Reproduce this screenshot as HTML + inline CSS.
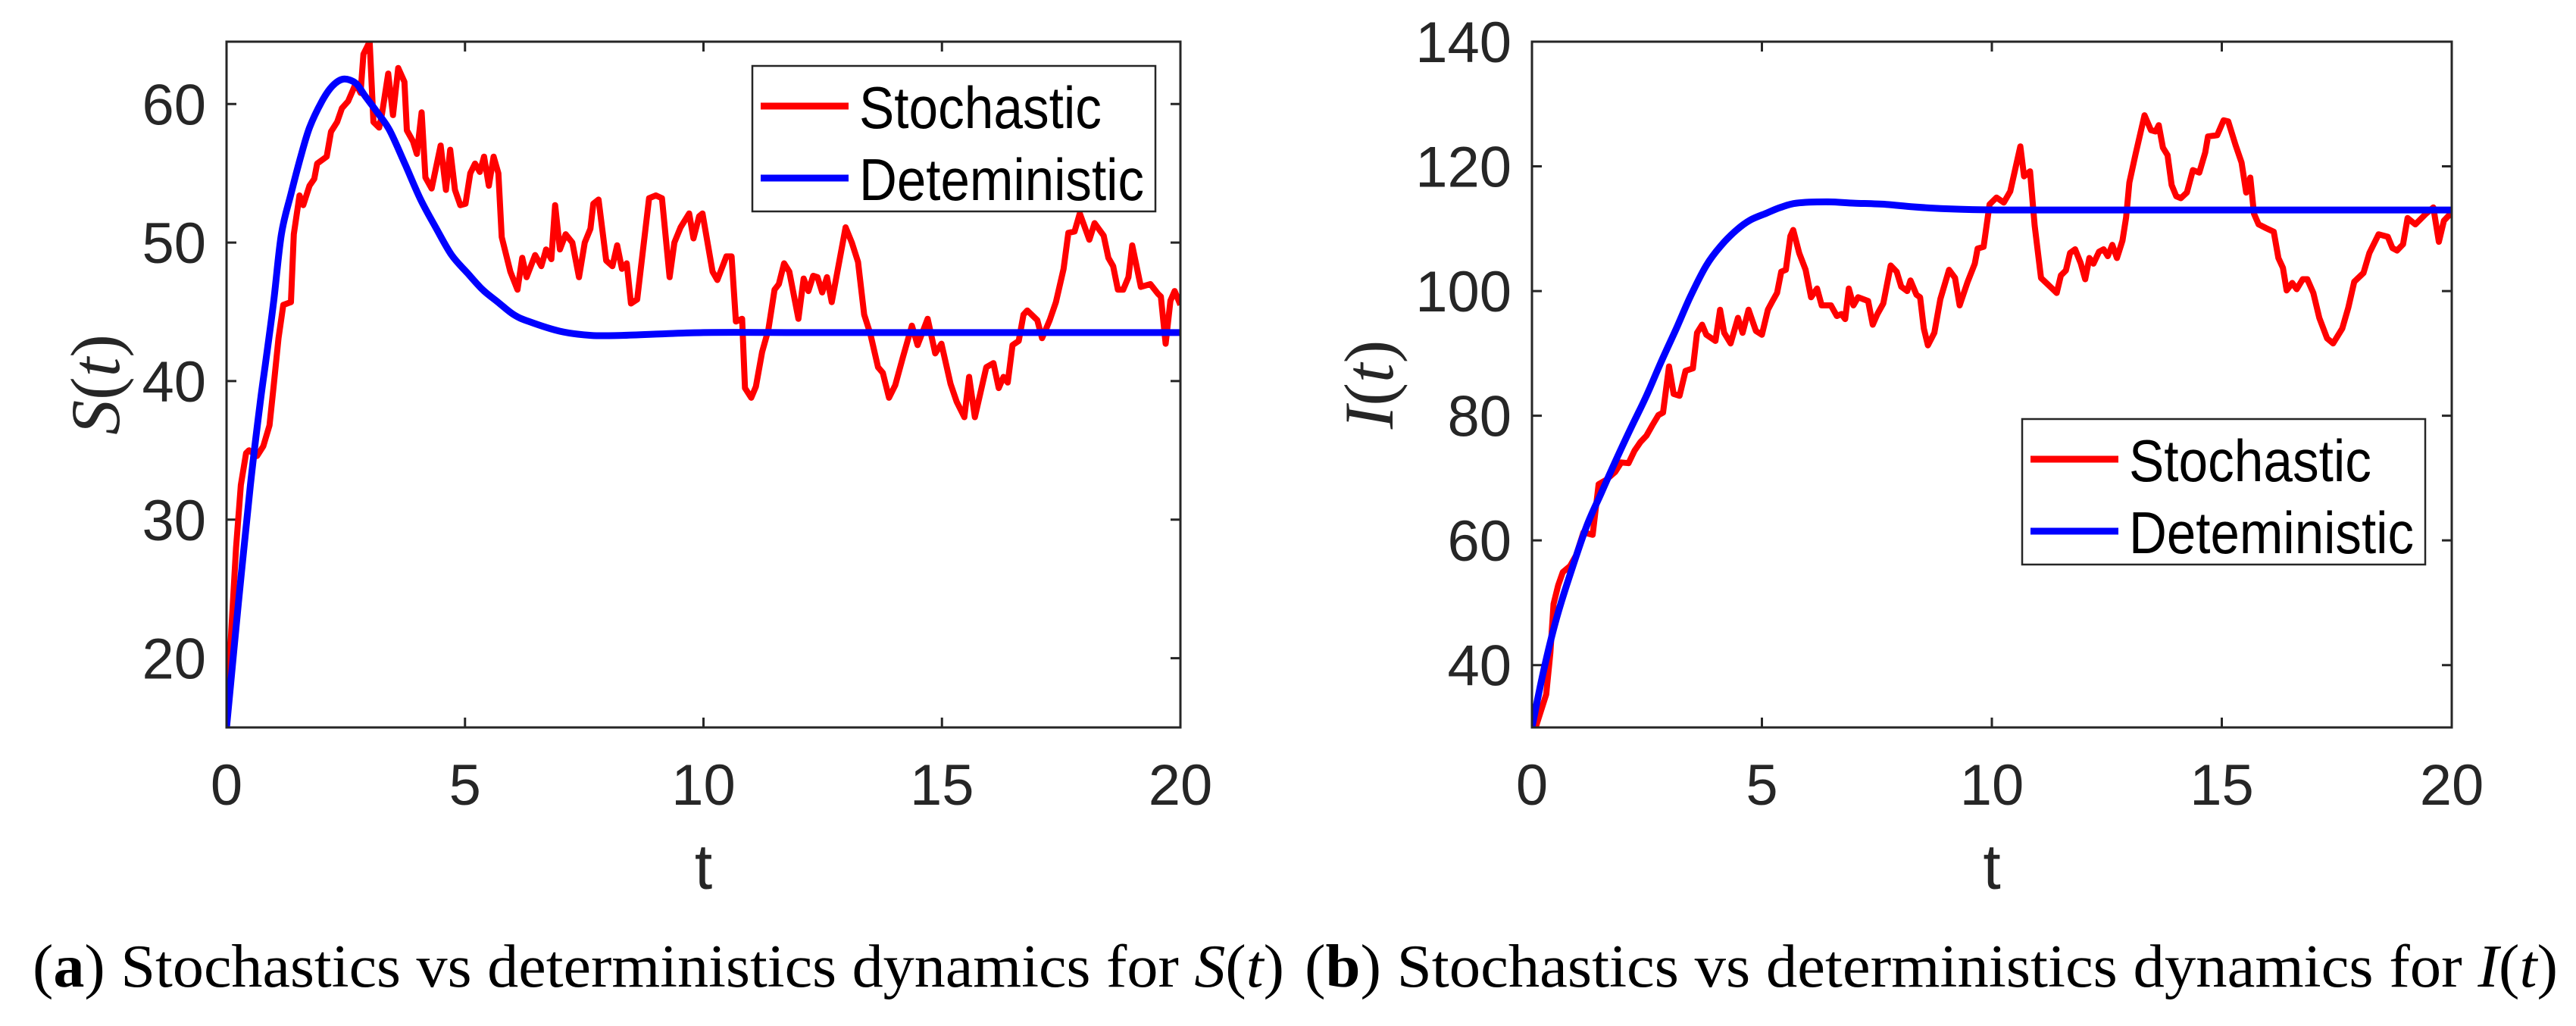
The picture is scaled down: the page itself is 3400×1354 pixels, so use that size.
<!DOCTYPE html>
<html><head><meta charset="utf-8"><style>
html,body{margin:0;padding:0;background:#fff;}
svg{display:block;}
</style></head><body>
<svg id="fig" width="3400" height="1354" viewBox="0 0 3400 1354" xmlns="http://www.w3.org/2000/svg">
<rect x="0" y="0" width="3400" height="1354" fill="#fff"/>
</svg>
<script>
// ---------- data ----------
const sTimes = [0,0.1,0.2,0.3,0.41,0.47,0.64,0.77,0.9,0.99,1.09,1.19,1.35,1.41,1.53,1.61,1.74,1.84,1.9,2.1,2.19,2.32,2.42,2.55,2.65,2.71,2.81,2.87,3.0,3.08,3.2,3.26,3.39,3.49,3.6,3.73,3.78,3.91,3.99,4.09,4.17,4.3,4.49,4.6,4.69,4.79,4.9,5.01,5.11,5.21,5.31,5.4,5.5,5.6,5.7,5.77,5.95,6.1,6.2,6.29,6.47,6.6,6.7,6.81,6.89,6.99,7.11,7.25,7.39,7.51,7.63,7.69,7.8,7.96,8.09,8.19,8.29,8.39,8.48,8.61,8.86,9.0,9.13,9.29,9.39,9.52,9.7,9.79,9.91,9.98,10.19,10.29,10.48,10.59,10.68,10.81,10.87,11.0,11.1,11.23,11.36,11.49,11.58,11.69,11.8,11.99,12.1,12.2,12.3,12.39,12.49,12.59,12.69,12.98,13.11,13.24,13.37,13.5,13.66,13.76,13.89,14.02,14.18,14.37,14.49,14.7,14.86,14.99,15.18,15.31,15.47,15.57,15.69,15.93,16.08,16.19,16.29,16.38,16.48,16.61,16.71,16.79,17.0,17.1,17.26,17.39,17.55,17.65,17.78,17.89,18.09,18.2,18.39,18.49,18.59,18.69,18.8,18.91,18.99,19.17,19.37,19.53,19.59,19.69,19.79,19.88,20.0];
const sStoch = [15,22,28,32.5,34.8,35.0,34.6,35.3,36.8,39.7,43.1,45.5,45.7,50.6,53.4,52.7,54.1,54.6,55.7,56.2,58.0,58.7,59.7,60.2,61.0,61.5,60.8,63.6,64.5,58.7,58.3,59.3,62.2,59.2,62.6,61.6,58.1,57.3,56.4,59.4,54.7,53.9,57.0,53.8,56.7,53.8,52.7,52.8,55.0,55.7,55.1,56.2,54.1,56.2,55.0,50.4,47.9,46.6,48.9,47.5,49.1,48.3,49.5,48.8,52.7,49.5,50.6,50.0,47.5,50.0,51.0,52.8,53.1,48.7,48.3,49.8,48.1,48.5,45.6,45.9,53.2,53.4,53.2,47.5,50.0,51.1,52.1,50.3,51.9,52.1,47.9,47.3,49.0,49.0,44.3,44.5,39.5,38.8,39.6,42.1,43.7,46.6,47.0,48.5,47.9,44.5,47.4,46.5,47.6,47.5,46.4,47.5,45.7,51.1,50.0,48.6,44.8,43.4,41.0,40.6,38.8,39.7,41.7,44.0,42.6,44.5,42.0,42.7,39.8,38.5,37.4,40.3,37.4,41.0,41.3,39.5,40.3,39.9,42.6,42.9,44.8,45.1,44.4,43.1,44.4,45.7,48.1,50.7,50.8,52.1,50.2,51.4,50.5,48.9,48.3,46.6,46.6,47.5,49.8,46.8,47.0,46.3,46.1,42.7,45.8,46.5,45.5];
const sDetTimes = [0,0.25,0.5,0.7,0.83,0.99,1.15,1.35,1.54,1.74,2.0,2.22,2.45,2.71,2.9,3.16,3.42,3.75,4.07,4.4,4.72,5.05,5.37,5.69,6.02,6.34,6.99,7.64,8.29,10,12,15,20];
const sDet = [15,24,32.5,38.3,41.6,45.8,50.6,53.5,56.0,58.3,60.2,61.3,61.8,61.5,60.6,59.4,58.1,55.6,53.1,51.0,49.1,47.8,46.6,45.7,44.8,44.3,43.6,43.3,43.3,43.5,43.5,43.5,43.5];

const iTimes = [0,0.08,0.31,0.4,0.47,0.57,0.67,0.83,0.96,1.12,1.32,1.45,1.61,1.81,1.94,2.1,2.23,2.36,2.49,2.62,2.75,2.85,2.98,3.08,3.21,3.34,3.5,3.59,3.7,3.79,3.99,4.09,4.18,4.32,4.48,4.58,4.71,4.87,5.0,5.13,5.23,5.33,5.42,5.52,5.62,5.68,5.81,5.95,6.07,6.2,6.3,6.5,6.63,6.73,6.81,6.89,6.99,7.09,7.31,7.41,7.51,7.64,7.8,7.93,8.03,8.16,8.23,8.36,8.44,8.52,8.61,8.75,8.88,9.07,9.2,9.3,9.47,9.63,9.69,9.82,9.95,10.1,10.26,10.4,10.62,10.7,10.83,10.93,11.07,11.24,11.41,11.5,11.61,11.7,11.81,11.93,12.03,12.12,12.21,12.33,12.43,12.52,12.62,12.72,12.84,12.92,12.99,13.12,13.32,13.46,13.56,13.63,13.72,13.82,13.91,14.01,14.11,14.24,14.37,14.51,14.64,14.7,14.9,15.04,15.14,15.3,15.43,15.53,15.62,15.7,15.8,15.96,16.13,16.23,16.33,16.41,16.53,16.63,16.76,16.86,16.99,17.12,17.29,17.42,17.62,17.75,17.88,18.08,18.21,18.41,18.61,18.71,18.81,18.94,19.04,19.21,19.44,19.6,19.72,19.83,20.0];
const iStoch = [30,30,35.3,42,49.8,52.8,54.9,55.9,57.6,61.3,60.9,69.0,69.7,71.0,72.5,72.4,74.4,75.8,76.8,78.5,80.1,80.5,87.9,83.5,83.2,87.2,87.6,93.3,94.6,93.0,92.0,97.0,93.3,91.6,95.7,93.3,97.0,93.6,93.0,97.0,98.4,99.7,103.1,103.4,108.8,109.8,106.1,103.4,99.0,100.4,97.7,97.7,96.0,96.3,95.5,100.4,97.7,99.0,98.4,94.6,96.3,98.0,104.1,103.1,100.7,100.0,101.7,99.4,99.0,94.0,91.3,93.3,98.7,103.4,102.1,97.7,101.4,104.4,106.8,107.1,113.9,115.0,114.2,116.0,123.2,118.4,119.2,110.5,102.1,100.9,99.7,102.5,103.3,106.1,106.7,104.5,101.9,105.3,104.4,106.3,106.7,105.6,107.4,105.3,108.1,111.8,117.4,121.8,128.2,125.8,125.6,126.6,123.0,121.8,117.0,115.2,114.9,115.8,119.4,119.0,122.2,124.8,125.0,127.4,127.2,123.4,120.6,115.8,118.2,112.4,110.7,110.1,109.5,105.3,103.7,100.1,101.3,100.3,101.9,101.9,99.7,95.7,92.4,91.6,94.0,97.3,101.5,102.9,106.1,109.1,108.7,106.9,106.5,107.5,111.7,110.7,112.4,113.4,107.9,111.3,112.6];
const iDetTimes = [0,0.25,0.53,0.85,1.19,1.5,1.84,2.15,2.49,2.8,3.14,3.45,3.79,4.1,4.45,4.75,5.1,5.4,5.75,6.4,7.0,7.7,8.3,9.0,10.1,12,15,20];
const iDet = [30,39,47.4,55,62.3,67.5,73.1,78,83.2,88.5,94.0,99.2,104.1,107.2,109.8,111.4,112.5,113.4,114.1,114.3,114.1,113.9,113.5,113.2,113.0,113.0,113.0,113.0];

const xTicks = [0,5,10,15,20];
const sYTicks = [20,30,40,50,60];
const iYTicks = [40,60,80,100,120,140];
const legendLabels = ["Stochastic","Deteministic"];

// ---------- drawing ----------
const NS = "http://www.w3.org/2000/svg";
const svg = document.getElementById("fig");
function mk(tag, attrs, parent){
  const e = document.createElementNS(NS, tag);
  for (const k in attrs) e.setAttribute(k, attrs[k]);
  (parent||svg).appendChild(e);
  return e;
}
const AX = "#262626";
const SANS = "'Liberation Sans', Arial, sans-serif";
const SERIF = "'Liberation Serif', 'Times New Roman', serif";

function panel(cfg){
  const g = mk("g", {});
  
  
  const {x0,x1,y0,y1,ymin,ymax} = cfg;
  const X = t => x0 + (t-0)/(20-0)*(x1-x0);
  const Y = v => y1 - (v-ymin)/(ymax-ymin)*(y1-y0);
  const clipId = cfg.name+"-clip";
  const defs = mk("defs", {}, g);
  const cp = mk("clipPath", {id: clipId}, defs);
  mk("rect", {x:x0, y:y0, width:x1-x0, height:y1-y0}, cp);

  xTicks.forEach(t=>{
    const tk = mk("path", {d:`M${X(t)},${y1}V${y1-13}M${X(t)},${y0}V${y0+13}`, stroke:AX, "stroke-width":3, fill:"none"}, g);
    
    
    const lb = mk("text", {x:X(t), y:1062, "text-anchor":"middle", "font-family":SANS, "font-size":76, fill:AX}, g);
    lb.textContent = t;
    
    
  });
  cfg.yTicks.forEach(v=>{
    const tk = mk("path", {d:`M${x0},${Y(v)}H${x0+13}M${x1},${Y(v)}H${x1-13}`, stroke:AX, "stroke-width":3, fill:"none"}, g);
    
    
    const lb = mk("text", {x:x0-27, y:Y(v)+27, "text-anchor":"end", "font-family":SANS, "font-size":76, fill:AX}, g);
    lb.textContent = v;
    
    
  });

  const lines = mk("g", {"clip-path":`url(#${clipId})`}, g);
  const pr = cfg.stT.map((t,i)=>`${i?'L':'M'}${X(t).toFixed(1)},${Y(cfg.stV[i]).toFixed(1)}`).join("");
  const red = mk("path", {d:pr, stroke:"#ff0000", "stroke-width":8, fill:"none", "stroke-linejoin":"round"}, lines);
  
  
  // smooth (Catmull-Rom) through deterministic points
  const P = cfg.dT.map((t,i)=>[X(t), Y(cfg.dV[i])]);
  let pb = `M${P[0][0].toFixed(1)},${P[0][1].toFixed(1)}`;
  for (let i=0;i<P.length-1;i++){
    const p0=P[Math.max(0,i-1)], p1=P[i], p2=P[i+1], p3=P[Math.min(P.length-1,i+2)];
    const c1=[p1[0]+(p2[0]-p0[0])/6, p1[1]+(p2[1]-p0[1])/6];
    const c2=[p2[0]-(p3[0]-p1[0])/6, p2[1]-(p3[1]-p1[1])/6];
    pb += `C${c1[0].toFixed(1)},${c1[1].toFixed(1)} ${c2[0].toFixed(1)},${c2[1].toFixed(1)} ${p2[0].toFixed(1)},${p2[1].toFixed(1)}`;
  }
  const blue = mk("path", {d:pb, stroke:"#0000ff", "stroke-width":9, fill:"none", "stroke-linejoin":"round"}, lines);
  
  

  const box = mk("rect", {x:x0, y:y0, width:x1-x0, height:y1-y0, fill:"none", stroke:AX, "stroke-width":3}, g);
  
  

  const xl = mk("text", {x:(x0+x1)/2, y:1173, "text-anchor":"middle", "font-family":SANS, "font-size":84, fill:AX}, g);
  xl.textContent = "t";
  
  
  const yl = mk("text", {x:0, y:0, transform:`translate(${cfg.ylx},${(y0+y1)/2}) rotate(-90)`, "text-anchor":"middle", "font-family":SERIF, "font-size":92, fill:AX}, g);
  const ys = mk("tspan", {"font-style":"italic"}, yl); ys.textContent = cfg.ysym;
  const yp = mk("tspan", {}, yl); yp.textContent = "(";
  const yt = mk("tspan", {"font-style":"italic"}, yl); yt.textContent = "t";
  const yq = mk("tspan", {}, yl); yq.textContent = ")";
  
  

  const lg = mk("g", {}, g);
  
  
  const L = cfg.leg;
  mk("rect", {x:L.x, y:L.y, width:532, height:192, fill:"#fff", stroke:AX, "stroke-width":2.5}, lg);
  const cols = ["#ff0000","#0000ff"];
  legendLabels.forEach((lab,i)=>{
    const cy = L.y + 53 + i*95;
    const ent = mk("g", {}, lg);
    
    
    mk("line", {x1:L.x+11, x2:L.x+127, y1:cy, y2:cy, stroke:cols[i], "stroke-width":9}, ent);
    const tx = mk("text", {x:L.x+141, y:cy+29, "font-family":SANS, "font-size":78, fill:"#000", textLength: i? 376 : 320, lengthAdjust:"spacingAndGlyphs"}, ent);
    tx.textContent = lab;
  });
}

panel({name:"panel-s", x0:299, x1:1558, y0:55, y1:960, ymin:15, ymax:64.5, yTicks:sYTicks,
  stT:sTimes, stV:sStoch, dT:sDetTimes, dV:sDet, ylx:157, ysym:"S", leg:{x:993,y:87}});
panel({name:"panel-i", x0:2022, x1:3236, y0:55, y1:960, ymin:30, ymax:140, yTicks:iYTicks,
  stT:iTimes, stV:iStoch, dT:iDetTimes, dV:iDet, ylx:1838, ysym:"I", leg:{x:2669,y:553}});

function caption(x, w, letter, sym, name){
  const t = mk("text", {x:x, y:1302, "font-family":SERIF, "font-size":80, fill:"#000", textLength:w, lengthAdjust:"spacingAndGlyphs"});
  
  
  const a = mk("tspan", {}, t); a.textContent = "(";
  const b = mk("tspan", {"font-weight":"bold"}, t); b.textContent = letter;
  const c = mk("tspan", {}, t); c.textContent = ") Stochastics vs deterministics dynamics for ";
  const d = mk("tspan", {"font-style":"italic"}, t); d.textContent = sym;
  const e = mk("tspan", {}, t); e.textContent = "(";
  const f = mk("tspan", {"font-style":"italic"}, t); f.textContent = "t";
  const h = mk("tspan", {}, t); h.textContent = ")";
}
caption(43, 1652, "a", "S", "caption-a");
caption(1722, 1654, "b", "I", "caption-b");
</script>
</body></html>
